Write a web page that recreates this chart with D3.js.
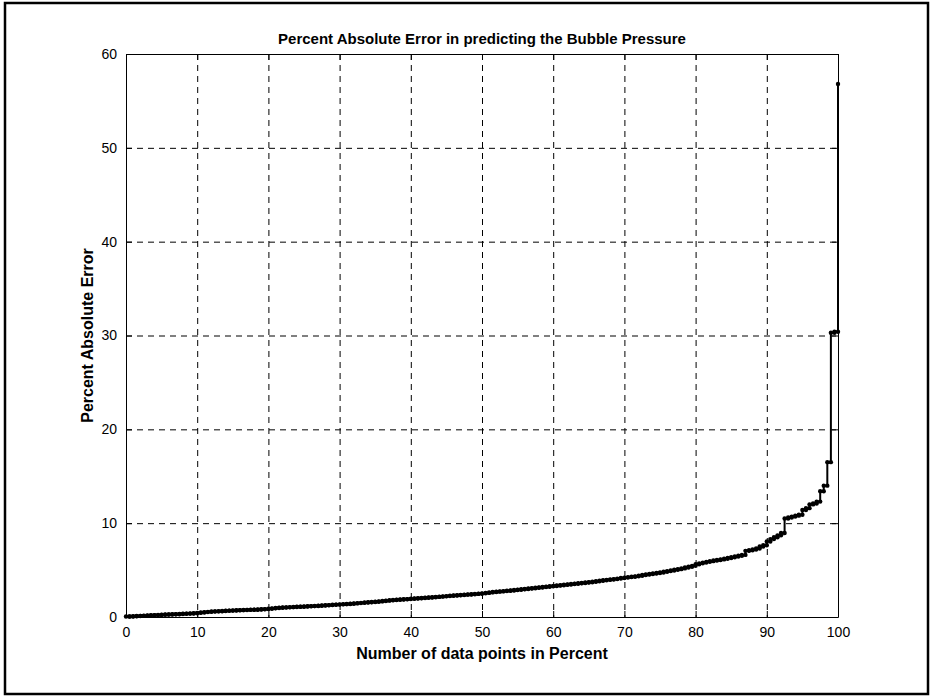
<!DOCTYPE html>
<html>
<head>
<meta charset="utf-8">
<script src="https://cdn.jsdelivr.net/npm/d3@7"></script>
<style>
  body { margin: 0; background: #fff; }
  svg { display: block; font-family: Arial, "Liberation Sans", sans-serif; }
  .axis path, .axis line { stroke: #000; }
  .axis text { font-size: 14px; fill: #000; }
</style>
</head>
<body>
<div id="chart"></div>
<script>
// sorted percent absolute errors, one per data point
var errors = [
  0.05,0.06,0.08,0.10,0.12,0.14,0.16,0.18,0.20,0.22,
  0.24,0.26,0.27,0.29,0.30,0.32,0.34,0.36,0.38,0.40,
  0.44,0.48,0.52,0.55,0.58,0.60,0.62,0.64,0.66,0.68,
  0.70,0.72,0.73,0.74,0.76,0.77,0.78,0.80,0.82,0.84,
  0.88,0.92,0.96,0.99,1.01,1.03,1.05,1.07,1.09,1.10,
  1.12,1.14,1.16,1.18,1.20,1.22,1.25,1.27,1.30,1.32,
  1.35,1.37,1.39,1.42,1.45,1.48,1.51,1.54,1.57,1.60,
  1.63,1.66,1.70,1.74,1.78,1.81,1.84,1.87,1.89,1.91,
  1.94,1.97,2.00,2.02,2.05,2.08,2.11,2.14,2.17,2.20,
  2.23,2.26,2.29,2.32,2.35,2.38,2.40,2.43,2.46,2.48,
  2.52,2.57,2.62,2.66,2.70,2.73,2.76,2.79,2.83,2.87,
  2.91,2.95,2.99,3.03,3.07,3.11,3.15,3.19,3.23,3.27,
  3.31,3.35,3.39,3.43,3.47,3.51,3.55,3.59,3.63,3.67,
  3.71,3.76,3.81,3.86,3.91,3.96,4.00,4.04,4.09,4.15,
  4.20,4.25,4.29,4.33,4.40,4.48,4.53,4.58,4.63,4.69,
  4.75,4.82,4.89,4.96,5.03,5.10,5.18,5.27,5.36,5.45,
  5.62,5.72,5.80,5.88,5.95,6.02,6.08,6.14,6.20,6.28,
  6.36,6.44,6.52,6.62,7.05,7.12,7.20,7.30,7.52,7.65,
  8.05,8.30,8.50,8.70,8.95,
  10.5,10.6,10.7,10.8,10.9,11.4,11.6,12.0,12.1,12.3,
  13.4,14.0,16.5,30.3,30.4,56.8
];

var xTicks = [0, 10, 20, 30, 40, 50, 60, 70, 80, 90, 100];
var yTicks = [0, 10, 20, 30, 40, 50, 60];

var titleText = "Percent Absolute Error in predicting the Bubble Pressure";
var xLabel = "Number of data points in Percent";
var yLabel = "Percent Absolute Error";

var W = 931, H = 698;
var margin = {top: 54, right: 93, bottom: 81, left: 126},
width = W - margin.left - margin.right,
height = H - margin.top - margin.bottom;

var svg = d3.select("#chart")
.append("svg")
.attr("width", W)
.attr("height", H);

// outer frame
svg.append("rect")
.attr("x", 5)
.attr("y", 3)
.attr("width", 923)
.attr("height", 691)
.attr("fill", "none")
.attr("stroke", "#000")
.attr("stroke-width", 2.5);

var g = svg.append("g")
.attr("transform", "translate(" + margin.left + "," + margin.top + ")");

var x = d3.scaleLinear().domain([0, 100]).range([0, width]);
var y = d3.scaleLinear().domain([0, 60]).range([height, 0]);

// dashed grid
g.append("g").selectAll("line")
.data(xTicks.slice(1, -1))
.enter().append("line")
.attr("x1", function(d) { return x(d) + 0.5; })
.attr("x2", function(d) { return x(d) + 0.5; })
.attr("y1", 0)
.attr("y2", height)
.attr("stroke", "#000")
.attr("stroke-dasharray", "6,5");

g.append("g").selectAll("line")
.data(yTicks.slice(1, -1))
.enter().append("line")
.attr("x1", 0)
.attr("x2", width)
.attr("y1", function(d) { return y(d) + 0.5; })
.attr("y2", function(d) { return y(d) + 0.5; })
.attr("stroke", "#000")
.attr("stroke-dasharray", "6,5");

// axes, ticks pointing inward on all four sides
g.append("g")
.attr("class", "axis")
.attr("transform", "translate(0," + height + ")")
.call(d3.axisBottom(x).tickValues(xTicks).tickSize(-6).tickSizeOuter(0).tickPadding(10));

g.append("g")
.attr("class", "axis")
.call(d3.axisTop(x).tickValues(xTicks).tickSize(-6).tickSizeOuter(0).tickFormat(""));

g.append("g")
.attr("class", "axis")
.call(d3.axisLeft(y).tickValues(yTicks).tickSize(-6).tickSizeOuter(0).tickPadding(9));

g.append("g")
.attr("class", "axis")
.attr("transform", "translate(" + width + ",0)")
.call(d3.axisRight(y).tickValues(yTicks).tickSize(-6).tickSizeOuter(0).tickFormat(""));

// stairs line
var pts = errors.map(function(v, i) {
  return {p: i / (errors.length - 1) * 100, v: v};
});

var line = d3.line()
.curve(d3.curveStepAfter)
.x(function(d) { return x(d.p); })
.y(function(d) { return y(d.v); });

g.append("path")
.datum(pts)
.attr("fill", "none")
.attr("stroke", "#000")
.attr("stroke-width", 2)
.attr("d", line);

// markers on every corner of the stairs
var corners = [];
pts.forEach(function(d, i) {
  if (i > 0) corners.push({p: d.p, v: pts[i - 1].v});
  corners.push(d);
});

g.append("g").selectAll("circle")
.data(corners)
.enter().append("circle")
.attr("cx", function(d) { return x(d.p); })
.attr("cy", function(d) { return y(d.v); })
.attr("r", 2.2)
.attr("fill", "#000");

// labels
svg.append("text")
.attr("x", margin.left + width / 2)
.attr("y", 44)
.attr("text-anchor", "middle")
.attr("font-size", 15)
.attr("font-weight", "bold")
.text(titleText);

svg.append("text")
.attr("x", margin.left + width / 2)
.attr("y", 659)
.attr("text-anchor", "middle")
.attr("font-size", 16)
.attr("font-weight", "bold")
.text(xLabel);

svg.append("text")
.attr("transform", "translate(93," + (margin.top + height / 2) + ") rotate(-90)")
.attr("text-anchor", "middle")
.attr("font-size", 16)
.attr("font-weight", "bold")
.text(yLabel);
</script>
</body>
</html>
